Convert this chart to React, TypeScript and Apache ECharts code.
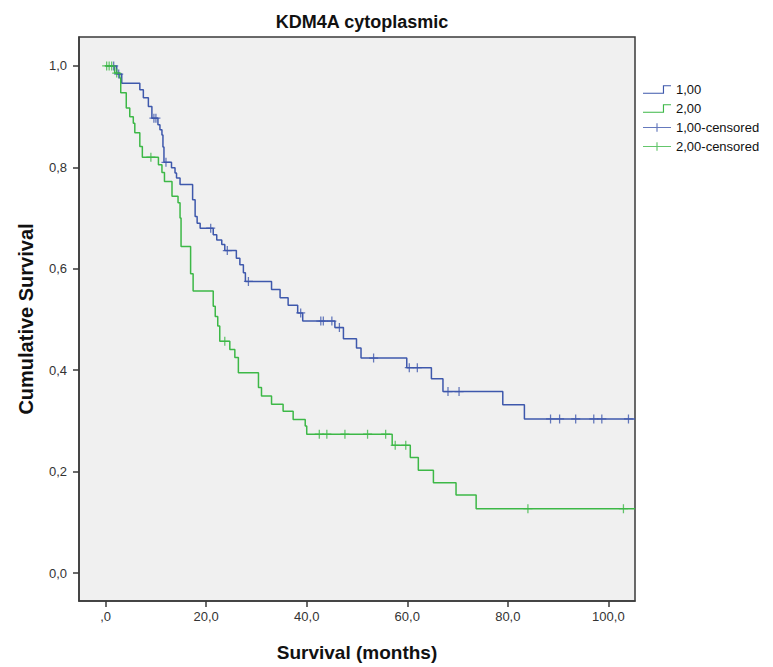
import React, { useEffect, useRef } from "react";
import * as echarts from "echarts";

// Kaplan-Meier step points [months, cumulative survival after the drop]
const group1Steps: number[][] = [
  [0, 1.0], [2.2, 0.984], [3.2, 0.966], [6.8, 0.953], [7.5, 0.937], [8.5, 0.92],
  [9.2, 0.897], [10.4, 0.884], [10.8, 0.874], [11.2, 0.864], [11.4, 0.84], [11.6, 0.81],
  [13.1, 0.799], [13.8, 0.789], [14.1, 0.779], [14.8, 0.766], [17.3, 0.736], [17.8, 0.703],
  [18.2, 0.69], [18.8, 0.68], [21.4, 0.667], [22.1, 0.657], [23.1, 0.648], [23.7, 0.636],
  [26.0, 0.621], [26.7, 0.608], [27.4, 0.592], [27.8, 0.575], [33.0, 0.559], [34.7, 0.543],
  [36.3, 0.528], [38.2, 0.513], [39.2, 0.497], [45.6, 0.484], [47.3, 0.462], [49.9, 0.444],
  [50.8, 0.424], [59.9, 0.405], [64.8, 0.383], [67.1, 0.358], [79.0, 0.332], [83.3, 0.304],
  [105.3, 0.304],
];

const group2Steps: number[][] = [
  [0, 1.0], [1.8, 0.986], [2.8, 0.976], [3.0, 0.947], [4.1, 0.917], [4.8, 0.9],
  [5.5, 0.887], [5.8, 0.868], [6.8, 0.841], [7.3, 0.82], [10.5, 0.805], [11.2, 0.79],
  [11.7, 0.772], [13.2, 0.743], [14.4, 0.73], [14.8, 0.7], [15.0, 0.644], [16.9, 0.59],
  [17.4, 0.556], [21.4, 0.526], [21.8, 0.506], [22.3, 0.487], [22.7, 0.457], [24.7, 0.441],
  [25.7, 0.425], [26.4, 0.395], [30.4, 0.366], [31.0, 0.349], [33.0, 0.333], [35.3, 0.319],
  [37.3, 0.303], [39.7, 0.29], [40.0, 0.274], [57.0, 0.252], [60.6, 0.228], [62.2, 0.203],
  [65.2, 0.178], [69.7, 0.154], [73.7, 0.127], [105.3, 0.127],
];

const group1Censored: number[][] = [
  [1.6, 1.0], [2.6, 0.984], [9.6, 0.897], [10.0, 0.897], [12.0, 0.81], [20.9, 0.68],
  [24.2, 0.636], [28.4, 0.575], [38.8, 0.513], [42.8, 0.497], [43.3, 0.497], [45.0, 0.497],
  [46.5, 0.484], [53.3, 0.424], [60.4, 0.405], [62.0, 0.405], [68.1, 0.358], [70.3, 0.358],
  [88.5, 0.304], [90.3, 0.304], [93.5, 0.304], [97.1, 0.304], [98.7, 0.304], [104.0, 0.304],
];

const group2Censored: number[][] = [
  [0.2, 1.0], [0.7, 1.0], [1.2, 1.0], [2.2, 0.986], [9.0, 0.82], [23.7, 0.457],
  [42.5, 0.274], [44.0, 0.274], [47.6, 0.274], [52.1, 0.274], [55.7, 0.274],
  [57.6, 0.252], [59.7, 0.252], [84.0, 0.127], [103.0, 0.127],
];

const xTicks = [0, 20, 40, 60, 80, 100];
const yTicks = [0, 0.2, 0.4, 0.6, 0.8, 1.0];

const seriesNames = ["1,00", "2,00", "1,00-censored", "2,00-censored"];

const BLUE = "#3E58AC";
const GREEN = "#3DB847";
const FONT = "'Liberation Sans', Arial, sans-serif";

const PLUS = "path://M4.3,0 H5.7 V10 H4.3 Z M0,4.3 H10 V5.7 H0 Z";
const STEP_ICON = "path://M0,7.8 H20.6 V0 H29 V1.2 H21.8 V9 H0 Z";
const CROSS_ICON = "path://M0,3.9 H29 V5.1 H0 Z M13.9,0 H15.1 V9 H13.9 Z";

export default function App() {
  const ref = useRef<HTMLDivElement>(null);

  useEffect(() => {
    if (!ref.current) return;
    const chart = echarts.init(ref.current, null, { renderer: "svg" });
    chart.setOption({
      animation: false,
      backgroundColor: "#ffffff",
      title: {
        text: "KDM4A cytoplasmic",
        left: 357,
        textAlign: "center",
        top: 8,
        textStyle: { fontFamily: FONT, fontSize: 18, fontWeight: "bold", color: "#111" },
      },
      legend: {
        orient: "vertical",
        left: 638,
        top: 78,
        itemWidth: 28,
        itemHeight: 9,
        itemGap: 6,
        textStyle: { fontFamily: FONT, fontSize: 13, color: "#111" },
        data: [
          { name: seriesNames[0], icon: STEP_ICON },
          { name: seriesNames[1], icon: STEP_ICON },
          { name: seriesNames[2], icon: CROSS_ICON },
          { name: seriesNames[3], icon: CROSS_ICON },
        ],
      },
      grid: {
        left: 79,
        right: 138,
        top: 37,
        bottom: 65,
        show: true,
        backgroundColor: "#F0F0F0",
        borderColor: "#3a3a3a",
        borderWidth: 1.5,
      },
      xAxis: {
        type: "value",
        min: -5.3,
        max: 105.3,
        name: "Survival (months)",
        nameLocation: "middle",
        nameGap: 42,
        nameTextStyle: { fontFamily: FONT, fontSize: 19, fontWeight: "bold", color: "#111" },
        axisLine: { show: true, onZero: false, lineStyle: { color: "#3a3a3a", width: 1.5 } },
        axisTick: { show: true, inside: false, length: 6, customValues: xTicks, lineStyle: { color: "#3a3a3a", width: 1.5 } },
        axisLabel: {
          customValues: xTicks,
          fontFamily: FONT,
          fontSize: 13,
          color: "#333",
          margin: 9,
          formatter: (v: number) => (v === 0 ? ",0" : v.toFixed(1).replace(".", ",")),
        },
        splitLine: { show: false },
      },
      yAxis: {
        type: "value",
        min: -0.055,
        max: 1.057,
        name: "Cumulative Survival",
        nameLocation: "middle",
        nameGap: 43,
        nameRotate: 90,
        nameTextStyle: { fontFamily: FONT, fontSize: 20, fontWeight: "bold", color: "#111" },
        axisLine: { show: true, onZero: false, lineStyle: { color: "#3a3a3a", width: 1.5 } },
        axisTick: { show: true, inside: false, length: 6, customValues: yTicks, lineStyle: { color: "#3a3a3a", width: 1.5 } },
        axisLabel: {
          customValues: yTicks,
          fontFamily: FONT,
          fontSize: 13,
          color: "#333",
          margin: 12,
          formatter: (v: number) => v.toFixed(1).replace(".", ","),
        },
        splitLine: { show: false },
      },
      series: [
        {
          name: seriesNames[0],
          type: "line",
          step: "end",
          data: group1Steps,
          showSymbol: false,
          color: BLUE,
          lineStyle: { color: BLUE, width: 1.5 },
          z: 2,
        },
        {
          name: seriesNames[1],
          type: "line",
          step: "end",
          data: group2Steps,
          showSymbol: false,
          color: GREEN,
          lineStyle: { color: GREEN, width: 1.5 },
          z: 3,
        },
        {
          name: seriesNames[2],
          type: "scatter",
          data: group1Censored,
          symbol: PLUS,
          symbolSize: 9,
          color: BLUE,
          itemStyle: { color: BLUE },
          z: 4,
        },
        {
          name: seriesNames[3],
          type: "scatter",
          data: group2Censored,
          symbol: PLUS,
          symbolSize: 9,
          color: GREEN,
          itemStyle: { color: GREEN },
          z: 5,
        },
      ],
    });
    return () => chart.dispose();
  }, []);

  return (
    <div
      ref={ref}
      style={{ position: "fixed", left: 0, top: 0, width: 773, height: 667 }}
    />
  );
}
